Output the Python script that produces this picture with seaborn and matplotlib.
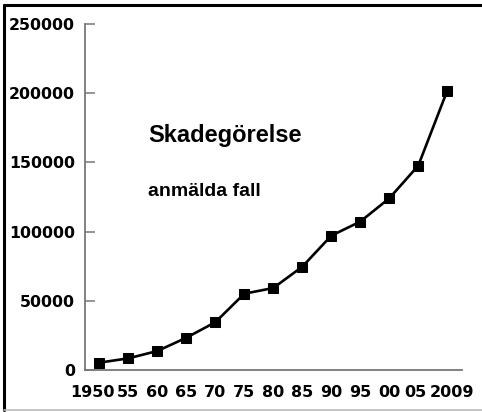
import matplotlib
matplotlib.use("Agg")
import matplotlib.pyplot as plt
from matplotlib.lines import Line2D
from matplotlib.transforms import ScaledTranslation
import numpy as np
import seaborn as sns

# Anmälda fall av skadegörelse
year_labels = ["1950", "55", "60", "65", "70", "75", "80", "85", "90", "95", "00", "05", "2009"]
cases = [5300, 8400, 13700, 23300, 34500, 55100, 59200, 74600, 97000, 107200, 124000, 147600, 201800]

sns.set_style("white")
plt.rcParams['font.family'] = ['DejaVu Sans']
plt.rcParams['text.color'] = 'black'
plt.rcParams['xtick.color'] = 'black'
plt.rcParams['ytick.color'] = 'black'

fig = plt.figure(figsize=(4.82, 4.12), dpi=100)
ax = fig.add_axes([0.176, 0.102, 0.782, 0.840])

pos = np.arange(len(year_labels))
sns.lineplot(x=pos, y=cases, ax=ax, color="black", linewidth=1.9,
             marker="s", markersize=6.5, markeredgecolor="black", markerfacecolor="black")

ax.set_xlim(-0.5, len(year_labels) - 0.5)
ax.set_ylim(0, 250000)

# Etiketter vid punkterna, streck mellan dem
ax.set_xticks(pos)
ax.set_xticklabels(year_labels, fontsize=11.5, fontweight="bold")
ax.set_xticks(list(pos[:-1] + 0.5) + [len(year_labels) - 0.5], minor=True)
ax.tick_params(axis="x", which="major", length=0, pad=11, labelcolor="black")
ax.tick_params(axis="x", which="minor", direction="in", length=7, width=1.1, color="#777777")

# några etiketter lite förskjutna, som i originalet
shifts = {0: -7, 11: -3, 12: 5}
labels = ax.get_xticklabels()
for i, dx in shifts.items():
    labels[i].set_transform(labels[i].get_transform() + ScaledTranslation(dx / 100, 0, fig.dpi_scale_trans))

ax.set_yticks(np.arange(0, 250001, 50000))
ax.set_yticklabels([str(v) for v in range(0, 250001, 50000)], fontsize=11.3, fontweight="bold")
ax.tick_params(axis="y", direction="in", length=7, width=1.1, color="#777777", pad=7, left=True,
               labelcolor="black")

for side in ["top", "right"]:
    ax.spines[side].set_visible(False)
for side in ["left", "bottom"]:
    ax.spines[side].set_color("#777777")
    ax.spines[side].set_linewidth(1.3)
ax.set_xlabel("")
ax.set_ylabel("")

ax.text(0.168, 0.677, "Skadegörelse", transform=ax.transAxes, fontsize=17, color="black",
        fontweight="bold", family=["Liberation Sans", "DejaVu Sans"], va="center")
ax.text(0.168, 0.517, "anmälda fall", transform=ax.transAxes, fontsize=14, color="black",
        fontweight="bold", family=["Liberation Sans", "DejaVu Sans"], va="center")

# Ram runt bilden
fig.add_artist(Line2D([0.008, 1.0], [0.988, 0.988], transform=fig.transFigure, color="black", linewidth=2.2))
fig.add_artist(Line2D([0.008, 0.008], [0.004, 0.988], transform=fig.transFigure, color="black", linewidth=2.2))
fig.add_artist(Line2D([0.008, 1.0], [0.004, 0.004], transform=fig.transFigure, color="#bbbbbb", linewidth=1.2))

fig.savefig("out.png", dpi=100)
